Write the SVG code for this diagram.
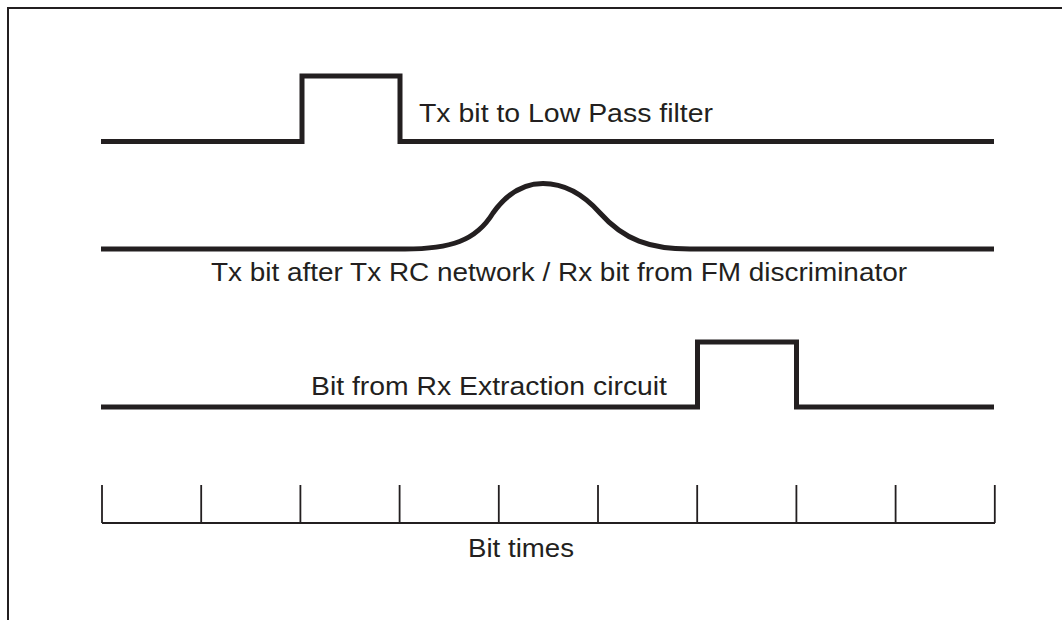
<svg xmlns="http://www.w3.org/2000/svg" width="1062" height="620" viewBox="0 0 1062 620">
<style>
.frame{fill:none;stroke:#231f20;stroke-width:2}
.sig{fill:none;stroke:#231f20;stroke-width:5;stroke-linejoin:miter}
.axis{fill:none;stroke:#231f20;stroke-width:1.8}
.lbl{font-family:"Liberation Sans",Arial,sans-serif;font-size:26px;fill:#231f20}
</style>
<rect width="1062" height="620" fill="#ffffff"/>
<path class="frame" d="M8,620 L8,8 L1062,8"/>
<g id="signal-tx">
<path class="sig" d="M101,141.5 L302,141.5 L302,76 L400,76 L400,141.5 L994,141.5"/>
<text class="lbl" x="419" y="122" textLength="294" lengthAdjust="spacingAndGlyphs">Tx bit to Low Pass filter</text>
</g>
<g id="signal-rc">
<path class="sig" d="M101,249 L405,249 C450,249 476,241 493,213 C508,192 524,183.5 543,183.5 C564,183.5 584,195 600,213 C624,240 650,249 690,249 L994,249"/>
<text class="lbl" x="211" y="281" textLength="696" lengthAdjust="spacingAndGlyphs">Tx bit after Tx RC network / Rx bit from FM discriminator</text>
</g>
<g id="signal-rx">
<path class="sig" d="M101,407 L697.5,407 L697.5,342 L796.5,342 L796.5,407 L994,407"/>
<text class="lbl" x="311" y="395" textLength="356" lengthAdjust="spacingAndGlyphs">Bit from Rx Extraction circuit</text>
</g>
<g id="bit-times">
<path class="axis" d="M102,523 L995,523 M102,485 L102,523 M201.2,485 L201.2,523 M300.4,485 L300.4,523 M399.6,485 L399.6,523 M498.8,485 L498.8,523 M598,485 L598,523 M697.2,485 L697.2,523 M796.4,485 L796.4,523 M895.6,485 L895.6,523 M994.8,485 L994.8,523"/>
<text class="lbl" x="468" y="557" textLength="106" lengthAdjust="spacingAndGlyphs">Bit times</text>
</g>
</svg>
